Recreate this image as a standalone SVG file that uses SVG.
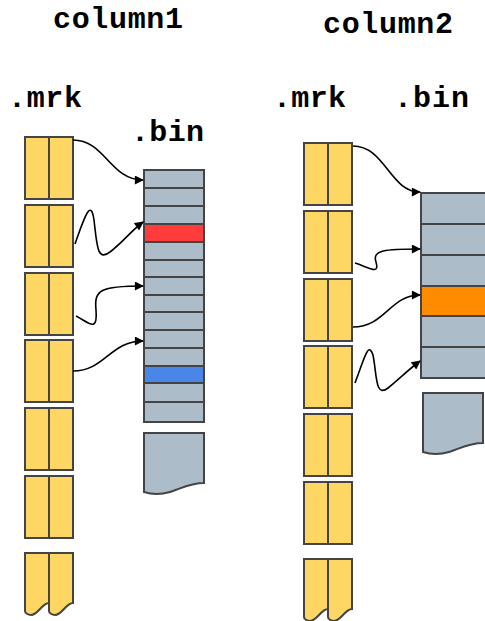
<svg xmlns="http://www.w3.org/2000/svg" width="485" height="621" viewBox="0 0 485 621">
<style>
.lbl{font-family:"Liberation Mono","Courier New",monospace;font-weight:bold;font-size:30px;fill:#000}
.mk{fill:#fdd663;stroke:#444;stroke-width:2}
.bn{fill:#adbcc9;stroke:#444;stroke-width:2}
.div{stroke:#444;stroke-width:2;fill:none}
.red{fill:#ff3b3b;stroke:#444;stroke-width:2}
.blue{fill:#4a86e8;stroke:#444;stroke-width:2}
.org{fill:#ff8c00;stroke:#444;stroke-width:2}
.cn{fill:none;stroke:#000;stroke-width:1.6;marker-end:url(#ah)}
</style>
<defs>
<marker id="ah" viewBox="0 0 10 10" refX="9" refY="5" markerWidth="11" markerHeight="9" markerUnits="userSpaceOnUse" orient="auto">
<path d="M0,0 L10,5 L0,10 Z" fill="#000"/>
</marker>
<g id="mark"><rect class="mk" x="0" y="0" width="48" height="62"/><line class="div" x1="24" y1="0" x2="24" y2="62"/></g>
<g id="torn"><path class="mk" d="M0,0 H24 V50 C17,50 13,62 6,62 C3,62 0,60 0,58 Z"/><path class="mk" d="M24,0 H48 V50 C41,50 37,62 30,62 C27,62 24,60 24,58 Z"/></g>
</defs>

<g id="titles">
<text class="lbl" x="53" y="28" textLength="130">column1</text>
<text class="lbl" x="323" y="33" textLength="130">column2</text>
<text class="lbl" x="8" y="107" textLength="74">.mrk</text>
<text class="lbl" x="131" y="141" textLength="73">.bin</text>
<text class="lbl" x="273" y="107" textLength="73">.mrk</text>
<text class="lbl" x="394" y="107" textLength="75">.bin</text>
</g>

<g id="col1-mrk">
<use href="#mark" x="25" y="137"/>
<use href="#mark" x="25" y="205"/>
<use href="#mark" x="25" y="273"/>
<use href="#mark" x="25" y="340"/>
<use href="#mark" x="25" y="408"/>
<use href="#mark" x="25" y="476"/>
<use href="#torn" x="25" y="553"/>
</g>

<g id="col1-bin">
<rect class="bn" x="144" y="170" width="60" height="252"/>
<path class="div" d="M144,188 H204 M144,206 H204 M144,260 H204 M144,277 H204 M144,295 H204 M144,312 H204 M144,330 H204 M144,348 H204 M144,402 H204"/>
<rect class="red" x="144" y="224" width="60" height="18"/>
<rect class="blue" x="144" y="366" width="60" height="17"/>
<path class="bn" d="M144,433 H204 V483 C190,483 180,489 170,492 C160,495 150,494 144,492 Z"/>
</g>

<g id="col2-mrk">
<use href="#mark" x="304" y="143"/>
<use href="#mark" x="304" y="211"/>
<use href="#mark" x="304" y="279"/>
<use href="#mark" x="304" y="346"/>
<use href="#mark" x="304" y="414"/>
<use href="#mark" x="304" y="482"/>
<use href="#torn" x="304" y="559"/>
</g>

<g id="col2-bin">
<rect class="bn" x="421" y="193" width="80" height="185"/>
<path class="div" d="M421,224 H501 M421,255 H501 M421,347 H501"/>
<rect class="org" x="421" y="286" width="80" height="30"/>
<path class="bn" d="M423,393 H483 V443 C469,443 459,449 449,452 C439,455 429,454 423,452 Z"/>
</g>

<g id="connectors">
<path class="cn" d="M73,140 C105,140 110,180 143,180"/>
<path class="cn" d="M75,244 C86,212 91,200 94,220 C97,245 97,262 110,252 C122,243 132,230 143,222"/>
<path class="cn" d="M76,316 C88,322 98,334 96,310 C94,290 100,286 143,286"/>
<path class="cn" d="M73,371 C105,371 110,341 143,341"/>
<path class="cn" d="M353,146 C385,146 390,192 420,192"/>
<path class="cn" d="M355,263 C368,267 380,276 376,262 C372,250 385,249 420,249"/>
<path class="cn" d="M353,327 C385,327 390,295 420,295"/>
<path class="cn" d="M355,383 C364,360 368,340 373,355 C377,375 375,398 388,388 C398,380 408,370 420,361"/>
</g>
</svg>
